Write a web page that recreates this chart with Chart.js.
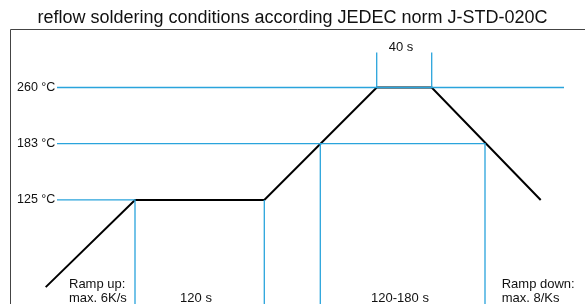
<!DOCTYPE html>
<html>
<head>
<meta charset="utf-8">
<script src="https://cdn.jsdelivr.net/npm/chart.js@4/dist/chart.umd.min.js"></script>
<style>
html,body{margin:0;padding:0;background:#fff;}
#wrap{width:585px;height:304px;}
</style>
</head>
<body>
<div id="wrap"><canvas id="c" width="585" height="304"></canvas></div>
<script>
// Schematic chart: x in schematic time units, y in temperature levels
const titleText = 'reflow soldering conditions according JEDEC norm J-STD-020C';
const tempLevels = [1, 2, 3];
const tempLabels = ['125 \u00B0C', '183 \u00B0C', '260 \u00B0C'];

// reflow profile (black)
const profileX = [35.7, 125, 254.3, 366.7, 421.7, 530.7];
const profileY = [-0.55, 1, 1, 3, 3, 1];

// blue guide lines: each a list of [x, level]
const line260 = [[47, 3], [554, 3]];
const line183 = [[47, 2], [475, 2], [475, -0.85]];
const line125 = [[47, 1], [125, 1], [125, -0.85]];
const soakEnd = [[254.3, 1], [254.3, -0.85]];
const liqStart = [[310.3, 2], [310.3, -0.85]];
const peakStart = [[366.7, 3], [366.7, 3.62]];
const peakEnd = [[421.7, 3], [421.7, 3.62]];

// annotation texts: [text, x, level, align]
const notes = [
  ['40 s', 391, 3.72, 'center'],
  ['Ramp up:', 59, -0.51, 'left'],
  ['max. 6K/s', 59, -0.75, 'left'],
  ['120 s', 186, -0.75, 'center'],
  ['120-180 s', 390, -0.75, 'center'],
  ['Ramp down:', 491.7, -0.51, 'left'],
  ['max. 8/Ks', 491.7, -0.75, 'left']
];

const BLUE = '#2aa4dc';
const toPts = a => a.map(p => ({x: p[0], y: p[1]}));
const blueSet = a => ({data: toPts(a), borderColor: BLUE, borderWidth: 1.3, pointRadius: 0, showLine: true, fill: false, tension: 0});

const annot = {
  id: 'annot',
  afterDraw(chart) {
    const ctx = chart.ctx, xs = chart.scales.x, ys = chart.scales.y, ca = chart.chartArea;
    const fx = Math.round(xs.getPixelForValue(0)) + 0.5;
    ctx.save();
    // frame
    ctx.strokeStyle = '#444';
    ctx.lineWidth = 1;
    ctx.beginPath();
    ctx.moveTo(fx, ca.bottom);
    ctx.lineTo(fx, Math.round(ca.top) + 0.5);
    ctx.lineTo(ca.right, Math.round(ca.top) + 0.5);
    ctx.stroke();
    ctx.fillStyle = '#111';
    ctx.textBaseline = 'middle';
    // y tick labels
    ctx.font = '12.5px "Liberation Sans", Arial, sans-serif';
    ctx.textAlign = 'left';
    tempLevels.forEach((lv, i) => {
      ctx.fillText(tempLabels[i], fx + 6.5, ys.getPixelForValue(lv));
    });
    ctx.font = '13px "Liberation Sans", Arial, sans-serif';
    notes.forEach(n => {
      ctx.textAlign = n[3];
      ctx.fillText(n[0], xs.getPixelForValue(n[1]), ys.getPixelForValue(n[2]));
    });
    ctx.restore();
  }
};

new Chart(document.getElementById('c'), {
  type: 'scatter',
  data: {
    datasets: [
      blueSet(line260), blueSet(line183), blueSet(line125),
      blueSet(soakEnd), blueSet(liqStart), blueSet(peakStart), blueSet(peakEnd),
      {data: profileX.map((x, i) => ({x, y: profileY[i]})), borderColor: '#000', borderWidth: 2, pointRadius: 0, showLine: true, fill: false, tension: 0}
    ]
  },
  options: {
    responsive: false,
    animation: false,
    devicePixelRatio: 1,
    layout: {padding: 0},
    plugins: {
      legend: {display: false},
      tooltip: {enabled: false},
      title: {display: true, text: titleText, color: '#111',
        font: {family: '"Liberation Sans", Arial, sans-serif', size: 18, weight: 'normal'},
        padding: {top: 7, bottom: 0.4}}
    },
    scales: {
      x: {type: 'linear', min: -10, max: 575, display: false},
      y: {type: 'linear', min: -0.85, max: 4.04, display: false}
    }
  },
  plugins: [annot]
});
</script>
</body>
</html>
